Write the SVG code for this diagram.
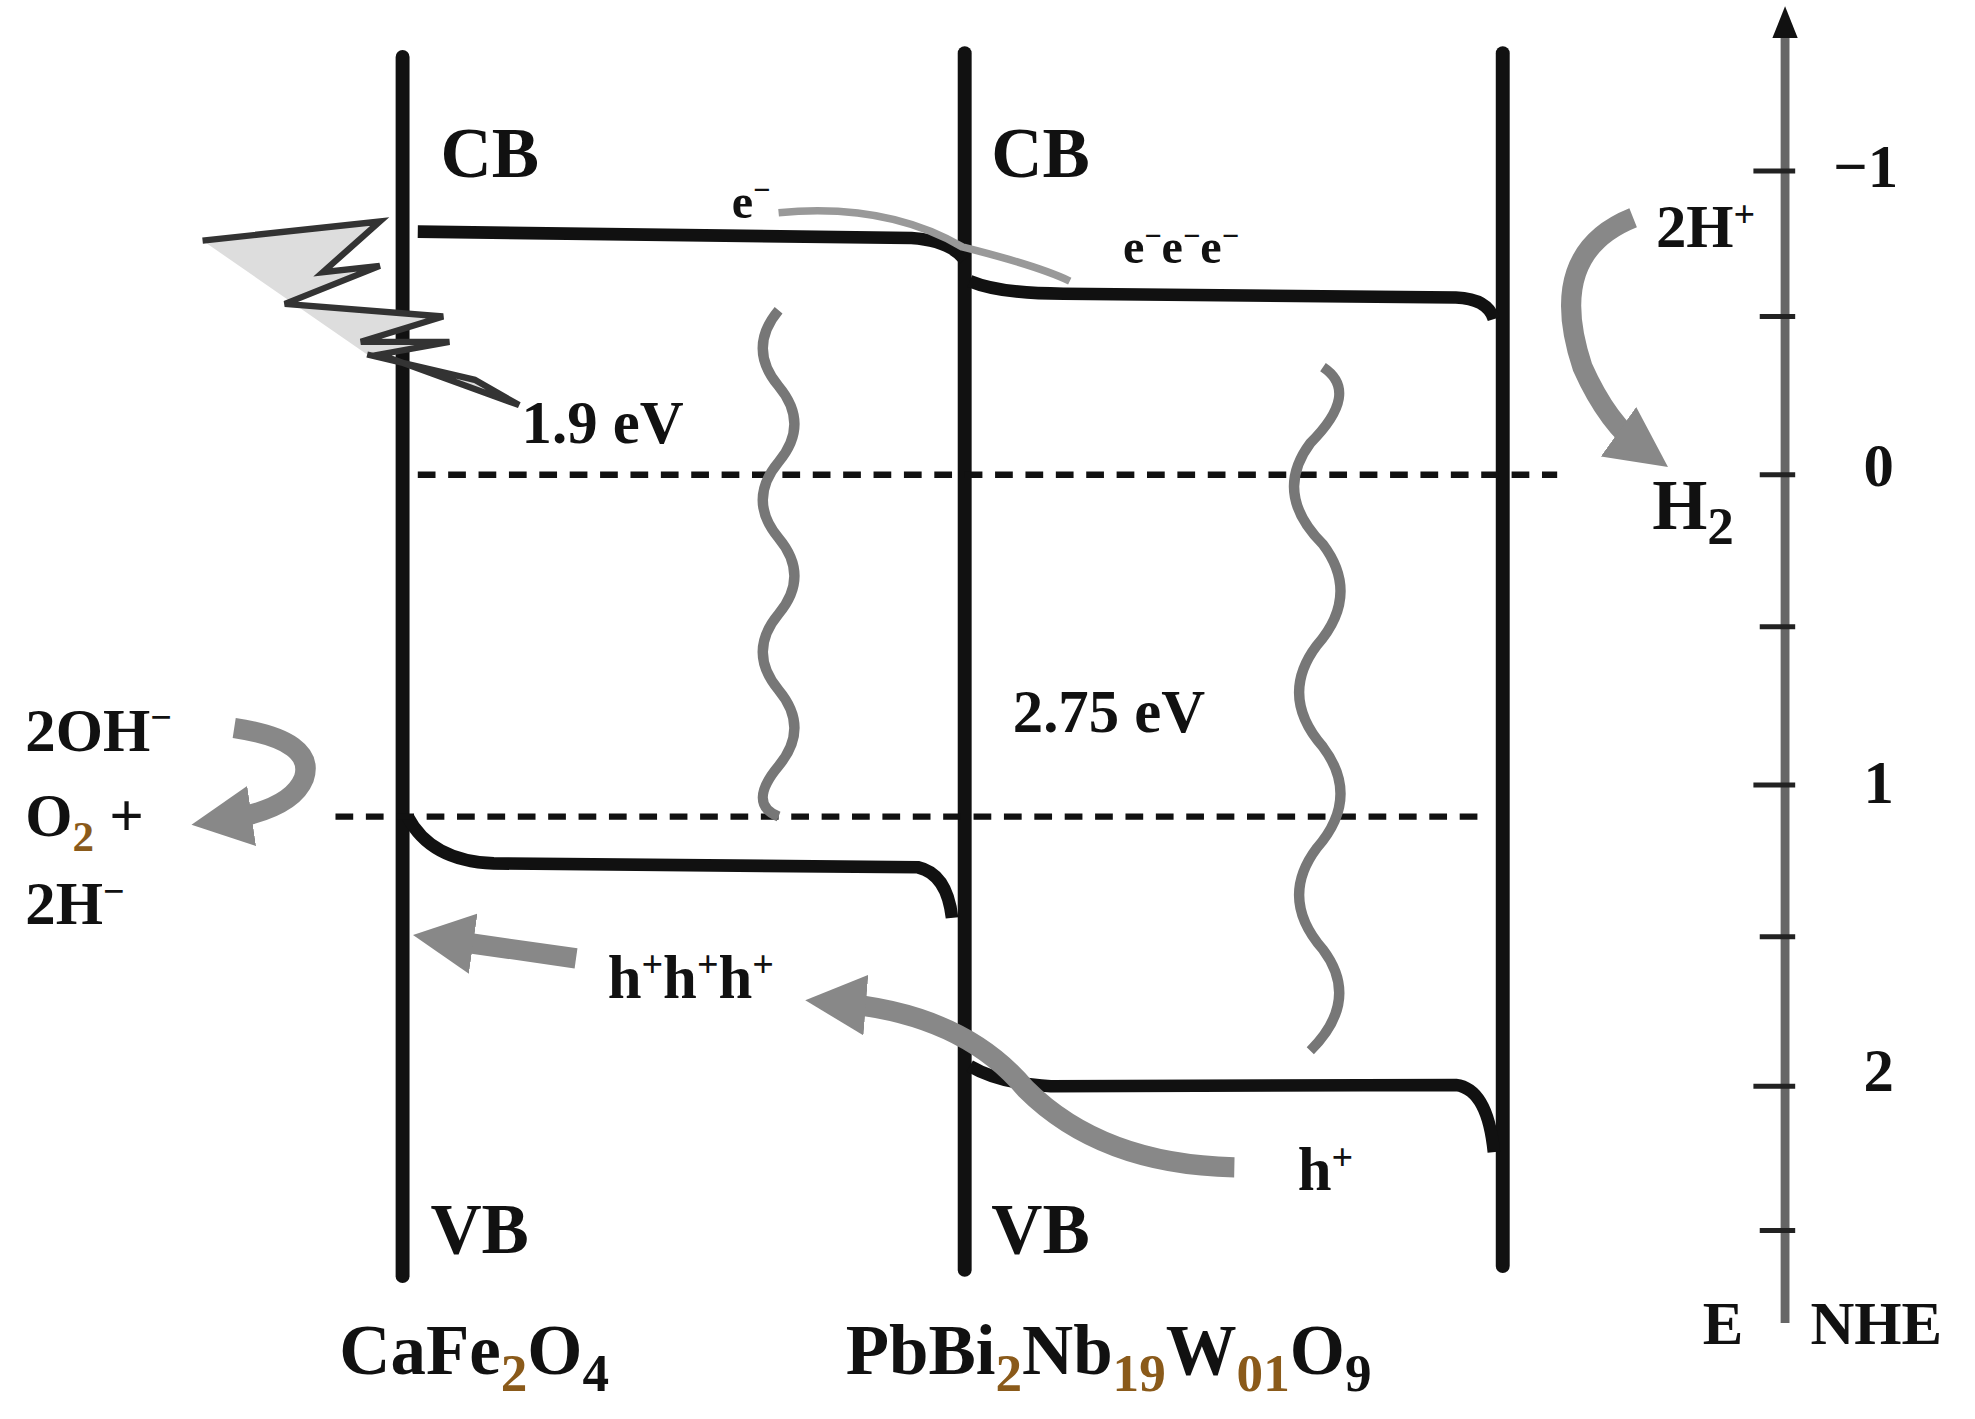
<svg xmlns="http://www.w3.org/2000/svg" width="1975" height="1419" viewBox="0 0 1975 1419">
<style>
.t{font-family:"Liberation Serif",serif;font-weight:bold;fill:#111}
.big{font-size:56px}.med{font-size:48px}.sm{font-size:38px}
.v{stroke:#111;stroke-width:11;fill:none;stroke-linecap:round}
.band{stroke:#111;stroke-width:10;fill:none}
.dash{stroke:#111;stroke-width:5;stroke-dasharray:14 10;fill:none}
.wave{stroke:#777;stroke-width:8;fill:none}
.garr{stroke:#888;stroke-width:16;fill:none}
.sub{fill:#8a5a1a}
</style>
<defs>
<marker id="ga" markerWidth="3" markerHeight="3" refX="1.5" refY="1.5" orient="auto" markerUnits="strokeWidth"><path d="M0,0 L3,1.5 L0,3 Z" fill="#888"/></marker>
</defs>
<rect width="1975" height="1419" fill="#fff"/>
<g transform="scale(1.266)">
<g id="frame">
<line class="v" x1="318" y1="45" x2="318" y2="1008"/>
<line class="v" x1="762" y1="42" x2="762" y2="1003"/>
<line class="v" x1="1187" y1="42" x2="1187" y2="1000"/>
</g>
<g id="axis">
<line x1="1410" y1="20" x2="1410" y2="1045" stroke="#666" stroke-width="7"/>
<path d="M1400,30 L1410,5 L1420,30 Z" fill="#111"/>
<g stroke="#222" stroke-width="4">
<line x1="1385" y1="135" x2="1418" y2="135"/><line x1="1390" y1="250" x2="1418" y2="250"/>
<line x1="1390" y1="375" x2="1418" y2="375"/><line x1="1390" y1="495" x2="1418" y2="495"/>
<line x1="1385" y1="620" x2="1418" y2="620"/><line x1="1390" y1="740" x2="1418" y2="740"/>
<line x1="1385" y1="858" x2="1418" y2="858"/><line x1="1390" y1="972" x2="1418" y2="972"/>
</g>
<text class="t med" x="1448" y="148">−1</text>
<text class="t med" x="1472" y="384">0</text>
<text class="t med" x="1472" y="634">1</text>
<text class="t med" x="1472" y="862">2</text>
<text class="t med" x="1345" y="1062">E</text>
<text class="t med" x="1430" y="1062">NHE</text>
</g>
<g id="connectors">
<path class="band" d="M330,183 L720,188 Q750,190 762,205"/>
<path class="band" d="M766,222 Q790,232 840,232 L1150,235 Q1175,236 1180,252"/>
<path class="band" d="M322,645 Q340,680 390,682 L725,685 Q748,690 752,725"/>
<path class="band" d="M766,842 Q790,856 830,858 L1150,857 Q1175,860 1180,910"/>
<line class="dash" x1="330" y1="375" x2="1230" y2="375"/>
<line class="dash" x1="265" y1="645" x2="1170" y2="645"/>
<path class="wave" d="M615,245 q-25,30 0,60 q25,30 0,60 q-25,30 0,60 q25,30 0,60 q-25,30 0,60 q25,30 0,60 q-25,30 0,40"/>
<path class="wave" d="M1045,290 q30,20 -10,60 q-30,40 10,80 q30,40 -5,80 q-30,40 5,80 q30,40 -5,80 q-30,40 5,80 q30,40 -10,80"/>
<path d="M615,168 Q700,160 760,195 Q820,210 845,222" stroke="#999" stroke-width="6" fill="none"/>
<path class="garr" d="M1290,172 Q1220,200 1250,290 Q1270,335 1298,355" marker-end="url(#ga)"/>
<path class="garr" d="M185,575 Q250,585 240,615 Q230,640 175,648" marker-end="url(#ga)"/>
<path class="garr" d="M455,757 L350,742" marker-end="url(#ga)"/>
<path class="garr" d="M975,922 Q870,920 810,860 Q760,800 660,792" marker-end="url(#ga)"/>
<path d="M160,190 L300,175 L255,215 L300,210 L225,240 L350,250 L285,270 L355,270 L300,280 L410,320 L375,300 L290,280" fill="#ddd" stroke="#333" stroke-width="5"/>
</g>
<g id="labels">
<text class="t big" x="348" y="140">CB</text>
<text class="t big" x="783" y="140">CB</text>
<text class="t big" x="340" y="990">VB</text>
<text class="t big" x="783" y="990">VB</text>
<text class="t big" x="268" y="1085">CaFe<tspan class="sub" dy="14" font-size="42">2</tspan><tspan dy="-14">O</tspan><tspan dy="14" font-size="42">4</tspan></text>
<text class="t big" x="668" y="1085">PbBi<tspan class="sub" dy="14" font-size="42">2</tspan><tspan dy="-14">Nb</tspan><tspan class="sub" dy="14" font-size="42">19</tspan><tspan dy="-14">W</tspan><tspan class="sub" dy="14" font-size="42">01</tspan><tspan dy="-14">O</tspan><tspan dy="14" font-size="42">9</tspan></text>
<text class="t med" x="412" y="350">1.9 eV</text>
<text class="t med" x="800" y="578">2.75 eV</text>
<text class="t sm" x="578" y="172">e<tspan dy="-14" font-size="24">−</tspan></text>
<text class="t sm" x="887" y="208">e<tspan dy="-14" font-size="24">−</tspan><tspan dy="14">e</tspan><tspan dy="-14" font-size="24">−</tspan><tspan dy="14">e</tspan><tspan dy="-14" font-size="24">−</tspan></text>
<text class="t med" x="480" y="788">h<tspan dy="-16" font-size="30">+</tspan><tspan dy="16">h</tspan><tspan dy="-16" font-size="30">+</tspan><tspan dy="16">h</tspan><tspan dy="-16" font-size="30">+</tspan></text>
<text class="t med" x="1025" y="940">h<tspan dy="-16" font-size="30">+</tspan></text>
<text class="t med" x="1308" y="195">2H<tspan dy="-16" font-size="30">+</tspan></text>
<text class="t big" x="1305" y="418">H<tspan dy="12" font-size="42">2</tspan></text>
<text class="t med" x="20" y="593">2OH<tspan dy="-16" font-size="30">−</tspan></text>
<text class="t med" x="20" y="660">O<tspan class="sub" dy="12" font-size="34">2</tspan><tspan dy="-12"> +</tspan></text>
<text class="t med" x="20" y="730">2H<tspan dy="-16" font-size="30">−</tspan></text>
</g>
</g>
</svg>
